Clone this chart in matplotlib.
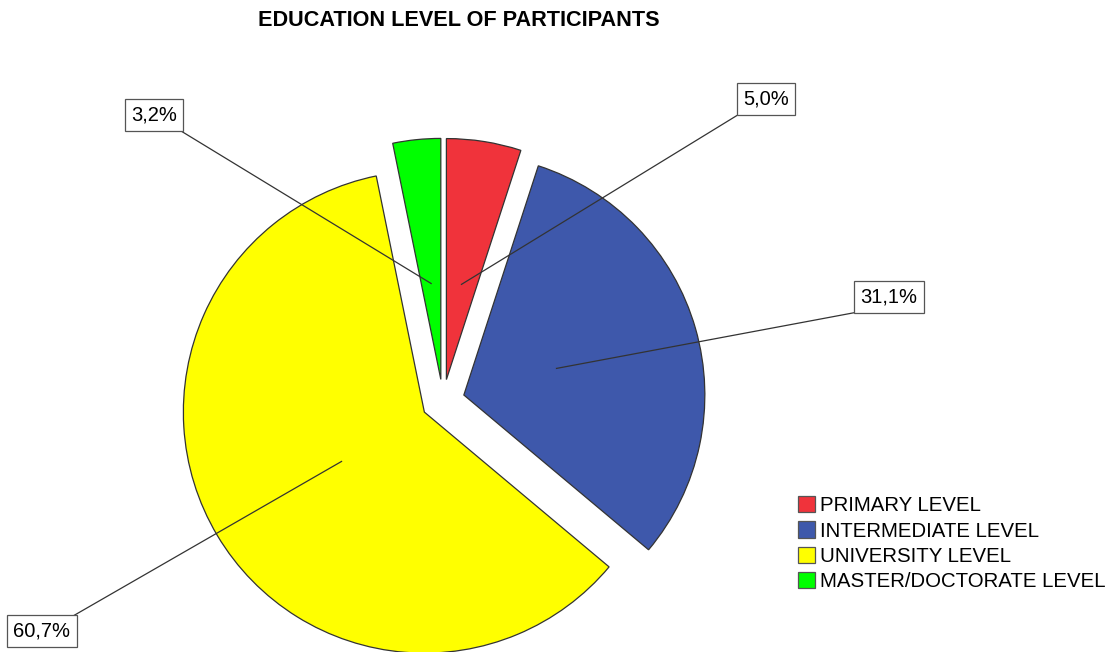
import numpy as np
import matplotlib
matplotlib.use("Agg")
import matplotlib.pyplot as plt
from matplotlib.patches import Patch

plt.rcParams['font.family'] = ['Liberation Sans', 'DejaVu Sans']

# Data
categories = ["PRIMARY LEVEL", "INTERMEDIATE LEVEL", "UNIVERSITY LEVEL", "MASTER/DOCTORATE LEVEL"]
percentages = [5.0, 31.1, 60.7, 3.2]
value_labels = ["5,0%", "31,1%", "60,7%", "3,2%"]
colors = ["#F0333B", "#3E58AB", "#FFFF00", "#00FF00"]

W, H = 1114, 652
R_PX = 241.0          # pie radius in pixels
CX, CY = 443.0, 401.0  # pie centre in pixels (from top-left)
EXPLODE = 0.09


def px(x, y):
    """Pixel position (from top-left) to data coordinates (radius = 1)."""
    return (x - CX) / R_PX, (CY - y) / R_PX


fig = plt.figure(figsize=(W / 100, H / 100), dpi=100)
ax = fig.add_axes([0, 0, 1, 1])

wedges, _ = ax.pie(
    percentages,
    colors=colors,
    startangle=90,
    counterclock=False,
    explode=[EXPLODE] * len(percentages),
    radius=1.0,
    wedgeprops=dict(edgecolor="#333333", linewidth=0.9),
)

ax.set_xlim(-CX / R_PX, (W - CX) / R_PX)
ax.set_ylim(-(H - CY) / R_PX, CY / R_PX)
ax.set_aspect("auto")
ax.axis("off")

# Label boxes: centre of the box and the corner the leader line joins
box_centres = [(766, 99), (889, 297), (42, 631), (154, 115)]
box_corners = [(741, 113), (858, 312), (73, 616), (181, 131)]

for w, lab, (bx, by), (cx, cy) in zip(wedges, value_labels, box_centres, box_corners):
    theta = np.deg2rad(0.5 * (w.theta1 + w.theta2))
    wx, wy = w.center
    ax_x = wx + 0.4 * np.cos(theta)
    ax_y = wy + 0.4 * np.sin(theta)
    ex, ey = px(cx, cy)
    ax.plot([ax_x, ex], [ax_y, ey], color="#333333", linewidth=0.9, zorder=3)
    tx, ty = px(bx, by)
    ax.text(tx, ty, lab, ha="center", va="center", fontsize=14.5, zorder=4,
            bbox=dict(boxstyle="square,pad=0.3", facecolor="white",
                      edgecolor="#555555", linewidth=0.9))

# Title
fig.text(459 / W, 1 - 20 / H, "EDUCATION LEVEL OF PARTICIPANTS",
         ha="center", va="center", fontsize=15.6, fontweight="bold")

# Legend
handles = [Patch(facecolor=c, edgecolor="#555555", linewidth=0.9) for c in colors]
fig.legend(handles, categories, loc="upper left",
           bbox_to_anchor=(798 / W, 1 - 496 / H), frameon=False,
           fontsize=14.7, handlelength=0.85, handleheight=0.85,
           handletextpad=0.25, labelspacing=0.3, borderpad=0,
           borderaxespad=0)

fig.savefig("out.png", dpi=100)
